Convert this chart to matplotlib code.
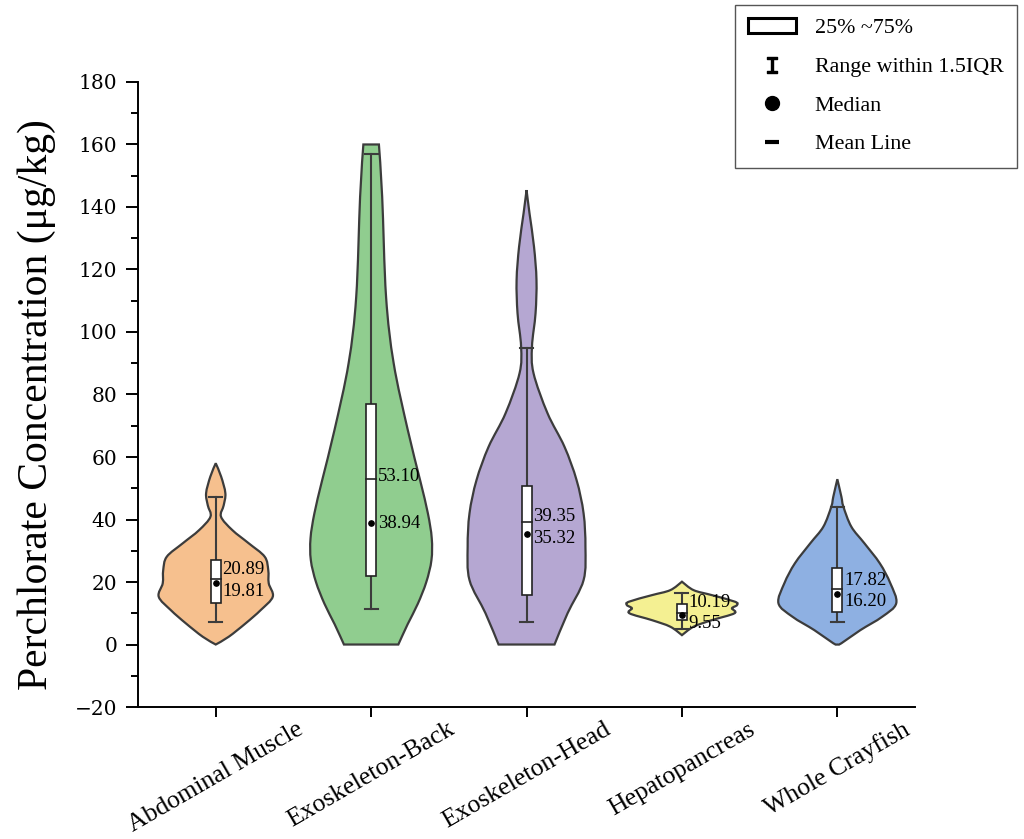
import numpy as np
import matplotlib
matplotlib.use("Agg")
import matplotlib.pyplot as plt
from matplotlib.path import Path
from matplotlib.patches import PathPatch, Patch
from matplotlib.lines import Line2D

plt.rcParams['font.family'] = ['Liberation Serif', 'DejaVu Serif']
plt.rcParams['axes.unicode_minus'] = True

# data
tissues = ['Abdominal Muscle', 'Exoskeleton-Back', 'Exoskeleton-Head',
           'Hepatopancreas', 'Whole Crayfish']
colors = ['#F6C08E', '#90CD8F', '#B5A7D2', '#F4F092', '#8EB0E2']

means = [20.89, 53.10, 39.35, 10.19, 17.82]
medians = [19.81, 38.94, 35.32, 9.55, 16.20]
q1 = [13.4, 22.0, 15.8, 7.8, 10.5]
q3 = [27.0, 77.0, 50.7, 12.9, 24.6]
whisker_low = [7.1, 11.5, 7.3, 4.9, 7.3]
whisker_high = [47.3, 157.0, 94.8, 16.4, 44.1]

# violin outlines: concentration levels (top -> bottom) and half widths
abd_y = [58.0, 53.7, 48.4, 44.5, 40.9, 36.6, 32.4, 28.1, 23.8, 19.6, 15.3, 11.0, 6.8, 2.5, 0.0]
abd_w = [0.0, 0.035, 0.062, 0.051, 0.034, 0.107, 0.212, 0.315, 0.338, 0.341, 0.367, 0.289, 0.193, 0.084, 0.0]
back_y = [160.0, 143.3, 111.3, 90.0, 68.6, 52.6, 42.0, 34.0, 27.0, 20.0, 13.0, 6.5, 0.0]
back_w = [0.050, 0.071, 0.096, 0.145, 0.236, 0.315, 0.365, 0.390, 0.388, 0.355, 0.300, 0.235, 0.175]
head_y = [145.4, 138.0, 127.3, 116.6, 106.0, 95.3, 86.8, 74.0, 63.3, 52.6, 42.0, 31.3, 20.6, 10.0, 0.0]
head_w = [0.0, 0.019, 0.048, 0.064, 0.058, 0.035, 0.045, 0.135, 0.244, 0.322, 0.367, 0.379, 0.367, 0.264, 0.180]
hep_y = [20.1, 17.4, 15.8, 13.7, 12.6, 11.6, 10.0, 7.8, 5.7, 3.0]
hep_w = [0.0, 0.075, 0.193, 0.341, 0.354, 0.322, 0.338, 0.193, 0.075, 0.0]
whole_y = [52.9, 47.3, 44.1, 37.7, 32.4, 26.0, 19.6, 13.2, 8.9, 4.6, 0.4, 0.0]
whole_w = [0.0, 0.026, 0.039, 0.090, 0.174, 0.273, 0.341, 0.379, 0.289, 0.148, 0.026, 0.0]

outlines = [(abd_y, abd_w), (back_y, back_w), (head_y, head_w),
            (hep_y, hep_w), (whole_y, whole_w)]


def smooth_side(pts):
    # catmull-rom through the points, as cubic bezier segments
    pts = np.asarray(pts, dtype=float)
    ext = np.vstack([pts[0], pts, pts[-1]])
    verts = []
    for i in range(1, len(ext) - 2):
        p0, p1, p2, p3 = ext[i - 1], ext[i], ext[i + 1], ext[i + 2]
        verts += [p1 + (p2 - p0) / 6, p2 - (p3 - p1) / 6, p2]
    return verts


def violin_path(cx, ys, ws):
    ys = np.asarray(ys)
    ws = np.asarray(ws)
    right = np.column_stack([cx + ws, ys])
    left = np.column_stack([cx - ws[::-1], ys[::-1]])
    verts = [right[0]]
    codes = [Path.MOVETO]
    seg = smooth_side(right)
    verts += seg
    codes += [Path.CURVE4] * len(seg)
    verts.append(left[0])
    codes.append(Path.LINETO)
    seg = smooth_side(left)
    verts += seg
    codes += [Path.CURVE4] * len(seg)
    verts.append(right[0])
    codes.append(Path.CLOSEPOLY)
    return Path(verts, codes)


fig = plt.figure(figsize=(10.24, 8.39), dpi=100)
ax = fig.add_axes([0.1348, 0.1573, 0.7588, 0.745])

edge = '#3c3c3c'
box_half = 0.032
cap_half = 0.042

for i, name in enumerate(tissues):
    cx = i + 1
    ys, ws = outlines[i]
    ax.add_patch(PathPatch(violin_path(cx, ys, ws), facecolor=colors[i],
                           edgecolor=edge, lw=1.6, zorder=2))
    # whiskers + caps
    ax.plot([cx, cx], [whisker_low[i], whisker_high[i]], color=edge, lw=1.5, zorder=3)
    ax.plot([cx - cap_half, cx + cap_half], [whisker_low[i]] * 2, color=edge, lw=1.5, zorder=3)
    ax.plot([cx - cap_half, cx + cap_half], [whisker_high[i]] * 2, color=edge, lw=1.5, zorder=3)
    # box
    ax.add_patch(plt.Rectangle((cx - box_half, q1[i]), 2 * box_half, q3[i] - q1[i],
                               facecolor='white', edgecolor='#222222', lw=1.2, zorder=4))
    ax.plot([cx - box_half, cx + box_half], [means[i]] * 2, color='#222222', lw=1.2, zorder=5)
    ax.plot(cx, medians[i], 'o', color='black', ms=3.8, zorder=6)

    # value labels, pushed apart when too close
    mid = (means[i] + medians[i]) / 2
    half = max(abs(means[i] - medians[i]) / 2, 3.0)
    hi_y, lo_y = mid + half + 0.6, mid - half - 0.3
    ax.text(cx + 0.043, hi_y, '%.2f' % means[i], fontsize=13.5, va='center', ha='left', zorder=7)
    ax.text(cx + 0.043, lo_y, '%.2f' % medians[i], fontsize=13.5, va='center', ha='left', zorder=7)

ax.set_xlim(0.5, 5.5)
ax.set_ylim(-20, 180)
ax.set_yticks(np.arange(-20, 181, 20))
ax.set_yticks(np.arange(-10, 180, 20), minor=True)
ax.set_xticks(range(1, 6))
ax.set_xticklabels(tissues, rotation=30, ha='center', fontsize=18.5)
for lab in ax.get_yticklabels():
    lab.set_fontfamily('DejaVu Serif')
    lab.set_fontsize(14.5)
ax.tick_params(axis='y', which='major', direction='out', length=9, width=1.4, pad=6)
ax.tick_params(axis='y', which='minor', direction='out', length=5, width=1.4)
ax.tick_params(axis='x', which='major', direction='out', length=7, width=1.4, pad=1)
ax.spines['top'].set_visible(False)
ax.spines['right'].set_visible(False)
ax.spines['left'].set_linewidth(1.4)
ax.spines['bottom'].set_linewidth(1.4)
ax.set_ylabel('Perchlorate Concentration (\u03bcg/kg)', fontsize=30)
ax.yaxis.set_label_coords(-0.105, 0.484)

handles = [
    Patch(facecolor='white', edgecolor='black', lw=2.2),
    Line2D([], [], ls='none', marker=r'$\mathtt{I}$', color='black', ms=12),
    Line2D([], [], ls='none', marker='o', color='black', ms=10),
    Line2D([], [], ls='none', marker='_', color='black', ms=10, mew=3),
]
labels = ['25% ~75%', 'Range within 1.5IQR', 'Median', 'Mean Line']
fig.legend(handles, labels, loc='upper right', bbox_to_anchor=(0.997, 0.999),
           fontsize=15.8, frameon=True, fancybox=False, edgecolor='#555555',
           framealpha=1, handlelength=2.2, handleheight=0.65, labelspacing=0.85,
           borderpad=0.6, handletextpad=0.85, borderaxespad=0.2)

fig.savefig('out.png', dpi=100)
